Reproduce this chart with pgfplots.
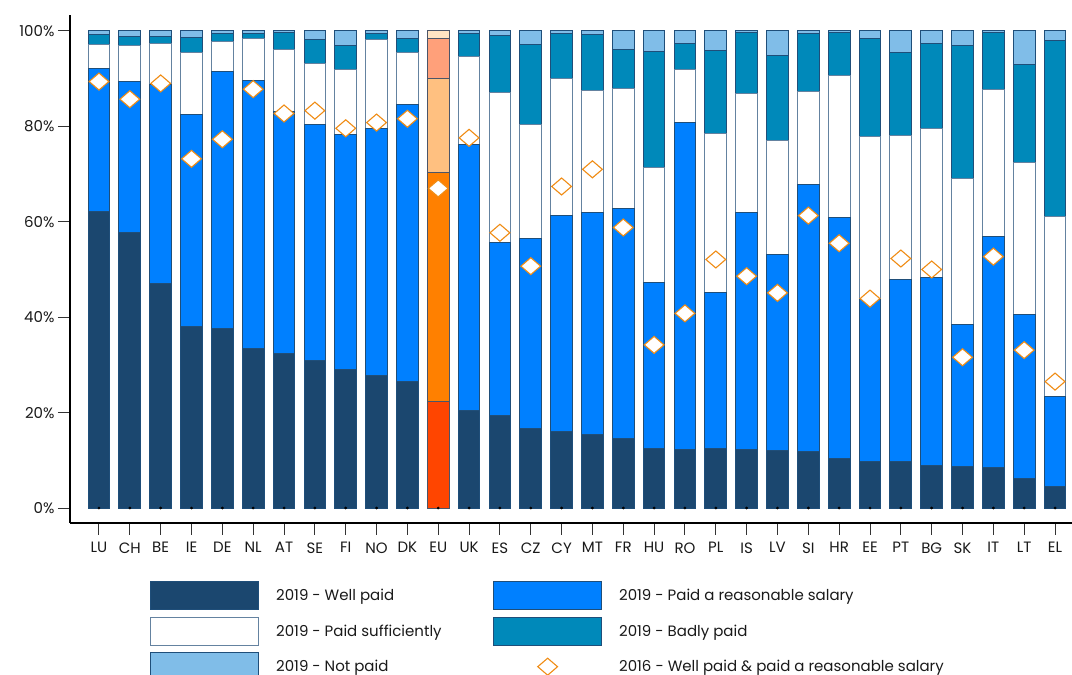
\documentclass[border=0pt]{standalone}
\usepackage{pgfplots}
\pgfplotsset{compat=1.18}
\usepackage{pgfplotstable}
\usepackage{fontspec}
\setmainfont{Poppins}

\definecolor{cwp}{RGB}{27,71,111}
\definecolor{crs}{RGB}{0,128,255}
\definecolor{cbp}{RGB}{0,137,186}
\definecolor{cnp}{RGB}{128,189,232}
\definecolor{cedge}{RGB}{31,78,121}
\definecolor{cwedge}{RGB}{100,130,160}
\definecolor{eu1}{RGB}{255,69,0}
\definecolor{eu2}{RGB}{255,128,0}
\definecolor{eu3}{RGB}{255,192,128}
\definecolor{eu4}{RGB}{255,160,122}
\definecolor{eu5}{RGB}{255,228,196}
\definecolor{euedge}{RGB}{75,85,105}
\definecolor{cdia}{RGB}{240,140,20}
\definecolor{ctxt}{RGB}{25,25,25}

\pgfplotstableread{
x wp rs ps bp np
0 62.1 30.1 4.9 2.1 0.8
1 57.7 31.8 7.4 1.9 1.2
2 47.0 41.7 8.6 1.5 1.2
3 38.0 44.5 13.0 3.2 1.3
4 37.7 53.9 6.2 1.7 0.5
5 33.5 56.2 8.8 1.0 0.5
6 32.3 50.9 13.0 3.5 0.3
7 31.0 49.3 12.8 5.2 1.7
8 29.1 49.2 13.7 4.9 3.1
9 27.7 51.8 18.8 1.1 0.6
10 26.5 58.1 10.9 3.0 1.5
12 20.4 55.9 18.3 4.9 0.5
13 19.4 36.2 31.5 11.9 1.0
14 16.6 39.9 23.9 16.8 2.8
15 16.1 45.3 28.7 9.4 0.5
16 15.5 46.4 25.7 11.6 0.8
17 14.6 48.2 25.2 8.2 3.8
18 12.5 34.7 24.1 24.4 4.3
19 12.3 68.5 11.1 5.4 2.7
20 12.4 32.7 33.4 17.5 4.0
21 12.3 49.6 24.9 12.9 0.3
22 12.0 41.2 23.9 17.7 5.2
23 11.8 56.1 19.4 12.2 0.5
24 10.4 50.5 29.7 9.1 0.3
25 9.7 34.0 34.1 20.7 1.5
26 9.7 38.1 30.3 17.4 4.5
27 8.9 39.4 31.2 17.9 2.6
28 8.7 29.8 30.5 27.9 3.1
29 8.5 48.5 30.8 11.9 0.3
30 6.1 34.4 32.0 20.4 7.1
31 4.5 18.8 37.8 36.8 2.1
}\maindata

\pgfplotstableread{
x wp rs ps bp np
11 22.3 48.0 19.8 8.4 1.5
}\eudata

\pgfplotstableread{
x d z
0 89.4 0
1 85.7 0
2 89.0 0
3 73.2 0
4 77.3 0
5 87.8 0
6 82.7 0
7 83.3 0
8 79.6 0
9 80.8 0
10 81.6 0
11 67.0 0
12 77.6 0
13 57.7 0
14 50.7 0
15 67.4 0
16 71.0 0
17 58.8 0
18 34.2 0
19 40.8 0
20 52.1 0
21 48.6 0
22 45.1 0
23 61.3 0
24 55.5 0
25 43.9 0
26 52.3 0
27 50.0 0
28 31.6 0
29 52.7 0
30 33.1 0
31 26.5 0
}\diadata

\pgfplotsset{
  base/.style={scale only axis, width=1002pt, height=508pt,
    xmin=-0.94, xmax=31.55, ymin=-3.14, ymax=103.35},
  diastyle/.style={only marks, mark=diamond*, mark size=8.5pt,
    mark options={xscale=1.55, fill=white, draw=cdia, line width=1.1pt}},
  diamondlegend/.style={legend image code/.code={
    \draw[##1] plot coordinates {(54pt,0pt)};}},
}

\begin{document}
\begin{tikzpicture}
\begin{axis}[base, name=main,
  ybar stacked, bar width=21.7pt,
  axis lines*=left, axis line style={-, line width=1.2pt, black},
  ytick={0,20,40,60,80,100},
  yticklabels={0\%,20\%,40\%,60\%,80\%,100\%},
  xtick={0,...,31},
  xticklabels={LU,CH,BE,IE,DE,NL,AT,SE,FI,NO,DK,EU,UK,ES,CZ,CY,MT,FR,HU,RO,PL,IS,LV,SI,HR,EE,PT,BG,SK,IT,LT,EL},
  tick align=outside, major tick length=12pt,
  tick style={line width=1pt, black!80},
  ticklabel style={font=\fontsize{15}{18}\selectfont, text=ctxt},
  xticklabel style={yshift=-4pt},
  legend image code/.code={\draw[#1] (0pt,-14pt) rectangle (108pt,14pt);},
  legend columns=2,
  legend style={at={(0.0798,-0.1142)}, anchor=north west, draw=none,
    fill=none, inner sep=0pt, row sep=6.5pt, column sep=0pt,
    font=\fontsize{15}{18}\selectfont, text=ctxt,
    nodes={inner sep=0pt, anchor=west}},
  legend cell align=left,
]
\addplot[fill=cwp, draw=cedge, line width=1pt] table[x=x, y=wp] {\maindata};
\addlegendentry{\hspace*{17pt}\makebox[217pt][l]{2019 - Well paid}}
\addplot[fill=crs, draw=cedge, line width=1pt] table[x=x, y=rs] {\maindata};
\addlegendentry{\hspace*{17pt}2019 - Paid a reasonable salary}
\addplot[fill=white, draw=cwedge, line width=1pt] table[x=x, y=ps] {\maindata};
\addlegendentry{\hspace*{17pt}\makebox[217pt][l]{2019 - Paid sufficiently}}
\addplot[fill=cbp, draw=cedge, line width=1pt] table[x=x, y=bp] {\maindata};
\addlegendentry{\hspace*{17pt}2019 - Badly paid}
\addplot[fill=cnp, draw=cedge, line width=1pt] table[x=x, y=np] {\maindata};
\addlegendentry{\hspace*{17pt}\makebox[217pt][l]{2019 - Not paid}}
\addlegendimage{diastyle, diamondlegend}
\addlegendentry{\hspace*{17pt}2016 - Well paid \& paid a reasonable salary}
\end{axis}

\begin{axis}[base, hide axis, ybar stacked, bar width=21.7pt]
\addplot[fill=eu1, draw=euedge, line width=1pt] table[x=x, y=wp] {\eudata};
\addplot[fill=eu2, draw=euedge, line width=1pt] table[x=x, y=rs] {\eudata};
\addplot[fill=eu3, draw=euedge, line width=1pt] table[x=x, y=ps] {\eudata};
\addplot[fill=eu4, draw=euedge, line width=1pt] table[x=x, y=bp] {\eudata};
\addplot[fill=eu5, draw=euedge, line width=1pt] table[x=x, y=np] {\eudata};
\end{axis}

\begin{axis}[base, hide axis, clip=false]
\addplot[only marks, mark=*, mark size=1.2pt, black] table[x=x, y=z] {\diadata};
\addplot[diastyle] table[x=x, y=d] {\diadata};
\end{axis}

\pgfresetboundingbox
\path ([xshift=-70pt,yshift=-152pt]main.south west) rectangle ([yshift=15pt]main.north east);
\end{tikzpicture}
\end{document}
